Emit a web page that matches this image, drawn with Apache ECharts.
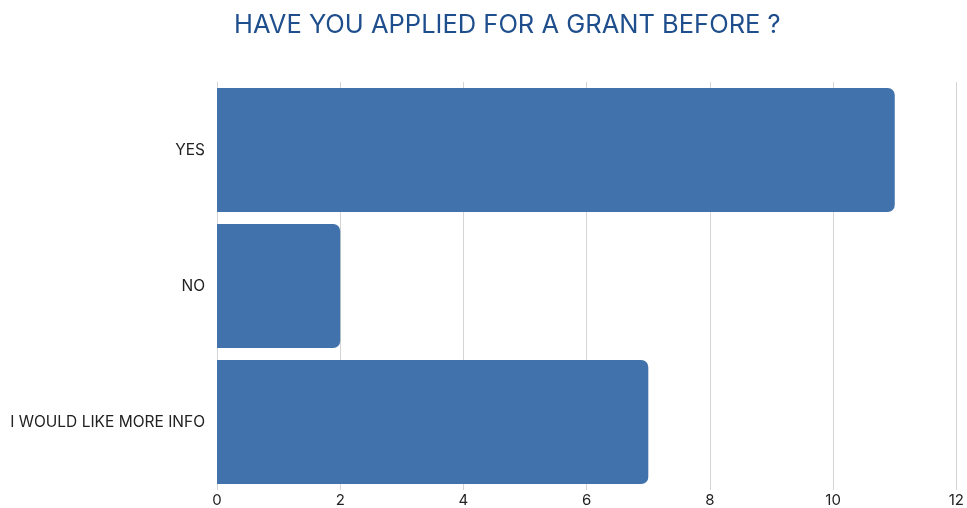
<!DOCTYPE html>
<html>
<head>
<meta charset="utf-8">
<script src="https://cdn.jsdelivr.net/npm/echarts@6/dist/echarts.min.js"></script>
<style>html,body{margin:0;padding:0;background:#fff}#c{width:967px;height:508px}</style>
</head>
<body>
<div id="c"></div>
<script>
const categories = ["YES", "NO", "I WOULD LIKE MORE INFO"];
const values = [11, 2, 7];
const xTicks = [0, 2, 4, 6, 8, 10, 12];

const chart = echarts.init(document.getElementById('c'));
chart.setOption({
  animation: false,
  title: {
    text: "HAVE YOU APPLIED FOR A GRANT BEFORE ?",
    left: 229, top: 7, itemGap: 0,
    textStyle: { fontFamily: 'Inter', fontWeight: 'normal', fontSize: 25.5, color: '#1f4e8c' }
  },
  grid: { left: 217, right: 10, top: 82, bottom: 18 },
  xAxis: {
    type: 'value', min: xTicks[0], max: xTicks[xTicks.length - 1], interval: 2,
    axisLine: { show: false }, axisTick: { show: false },
    axisLabel: { fontFamily: 'Inter', fontSize: 15, color: '#222', margin: 3 },
    splitLine: { show: true, lineStyle: { color: '#d4d4d4', width: 1 } }
  },
  yAxis: {
    type: 'category', data: categories, inverse: true,
    axisLine: { show: true, lineStyle: { color: '#d4d4d4' } },
    axisTick: { show: false },
    axisLabel: { fontFamily: 'Inter', fontSize: 15.5, color: '#222', margin: 12, padding: [4, 0, 0, 0] }
  },
  series: [{
    type: 'bar', data: values, barCategoryGap: '8.8%',
    itemStyle: { color: '#4272ab', borderRadius: [0, 7, 7, 0] }
  }]
});
</script>
</body>
</html>
